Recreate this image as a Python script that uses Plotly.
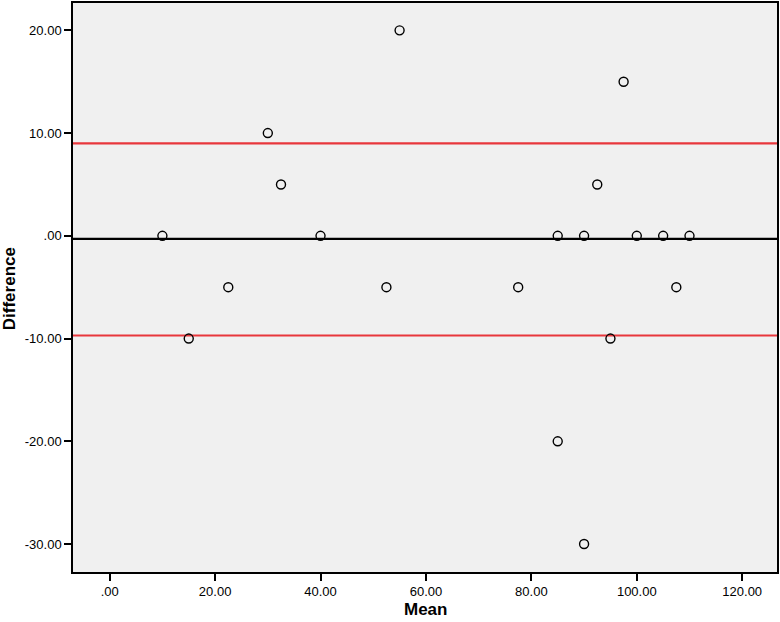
import plotly.graph_objects as go

# Data
mean_vals = [10, 15, 22.5, 30, 32.5, 40, 52.5, 55, 77.5, 85, 85, 90, 90,
             92.5, 95, 97.5, 100, 105, 107.5, 110]
diff_vals = [0, -10, -5, 10, 5, 0, -5, 20, -5, 0, -20, 0, -30,
             5, -10, 15, 0, 0, -5, 0]

# Reference lines: upper limit, mean difference, lower limit
ref_values = [9.0, -0.3, -9.7]
ref_colors = ["#e8373c", "#000000", "#e8373c"]

x_tickvals = [0, 20, 40, 60, 80, 100, 120]
x_ticktext = [".00", "20.00", "40.00", "60.00", "80.00", "100.00", "120.00"]
y_tickvals = [20, 10, 0, -10, -20, -30]
y_ticktext = ["20.00", "10.00", ".00", "-10.00", "-20.00", "-30.00"]

fig = go.Figure()

for val, col in zip(ref_values, ref_colors):
    fig.add_shape(type="line", xref="paper", x0=0, x1=1, yref="y", y0=val, y1=val,
                  line=dict(color=col, width=2.2), layer="below")

fig.add_trace(go.Scatter(
    x=mean_vals, y=diff_vals, mode="markers",
    marker=dict(symbol="circle-open", size=9, color="black", line=dict(width=1.4, color="black")),
    showlegend=False, cliponaxis=False,
))

font_family = "Liberation Sans, Arial, sans-serif"

fig.add_annotation(text="<b>Mean</b>", xref="paper", yref="paper", x=0.5, y=0,
                   xanchor="center", yanchor="middle", yshift=-37, showarrow=False,
                   font=dict(size=17, family=font_family, color="black"))
fig.add_annotation(text="<b>Difference</b>", xref="paper", yref="paper", x=0, y=0.497,
                   xanchor="center", yanchor="middle", xshift=-64, textangle=-90,
                   showarrow=False, font=dict(size=17, family=font_family, color="black"))

fig.update_layout(
    width=780, height=622,
    margin=dict(l=73, r=3, t=3, b=50, autoexpand=False),
    paper_bgcolor="white",
    plot_bgcolor="#f0f0f0",
    font=dict(family=font_family, size=13, color="black"),
    xaxis=dict(
        range=[-6.96, 126.6], automargin=False,
        tickvals=x_tickvals, ticktext=x_ticktext,
        ticks="outside", ticklen=7, tickwidth=1.5, tickcolor="black",
        showgrid=False, zeroline=False,
        showline=True, linecolor="black", linewidth=1.5, mirror=True,
        tickfont=dict(size=13, family=font_family),
    ),
    yaxis=dict(
        range=[-32.72, 22.66], automargin=False,
        tickvals=y_tickvals, ticktext=y_ticktext,
        ticks="outside", ticklen=7, tickwidth=1.5, tickcolor="black",
        showgrid=False, zeroline=False,
        showline=True, linecolor="black", linewidth=1.5, mirror=True,
        tickfont=dict(size=13, family=font_family),
    ),
)

fig.write_html(
    "out.html",
    config={"displayModeBar": False},
    post_script="document.body.style.margin='0';document.body.style.overflow='hidden';",
)
